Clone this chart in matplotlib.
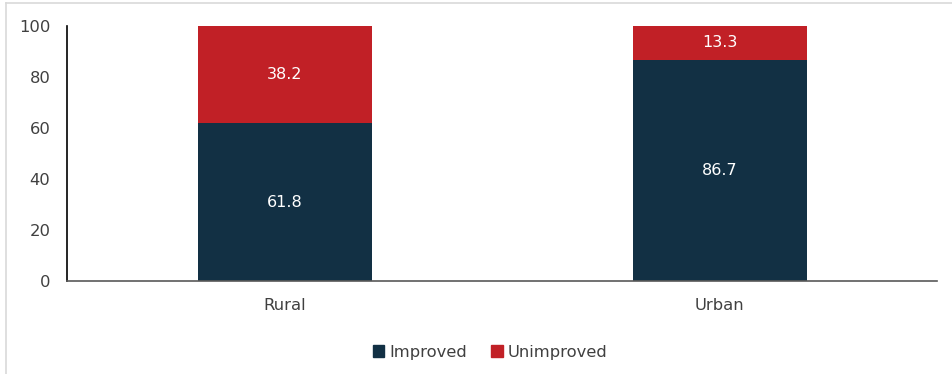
import matplotlib
matplotlib.use("Agg")
import matplotlib.pyplot as plt
from matplotlib.patches import Rectangle
from matplotlib.lines import Line2D

categories = ["Rural", "Urban"]
improved = [61.8, 86.7]
unimproved = [38.2, 13.3]
yticks = [0, 20, 40, 60, 80, 100]

navy = "#123044"
red = "#C12026"
txt = "#404040"

fig = plt.figure(figsize=(9.52, 3.74), dpi=100)
W, H = 952, 374
ax = fig.add_axes([67 / W, 1 - 281 / H, (937 - 67) / W, (281 - 26) / H])

x = list(range(len(categories)))
ax.bar(x, improved, width=0.4, color=navy, label="Improved", zorder=2)
ax.bar(x, unimproved, width=0.4, bottom=improved, color=red, label="Unimproved", zorder=2)

for i in x:
    ax.text(i, improved[i] / 2, f"{improved[i]:.1f}", ha="center", va="center",
            color="white", fontsize=11.5)
    ax.text(i, improved[i] + unimproved[i] / 2, f"{unimproved[i]:.1f}", ha="center",
            va="center", color="white", fontsize=11.5)

ax.set_xlim(-0.5, 1.5)
ax.set_ylim(0, 100)
ax.set_yticks(yticks)
ax.set_xticks(x)
ax.set_xticklabels(categories)
ax.tick_params(axis="both", length=0, labelsize=11.8, colors=txt)
ax.tick_params(axis="y", pad=12)
ax.tick_params(axis="x", pad=12)
for s in ["top", "right"]:
    ax.spines[s].set_visible(False)
ax.spines["left"].set_color("black")
ax.spines["left"].set_linewidth(1.2)
ax.spines["bottom"].set_color("#595959")
ax.spines["bottom"].set_linewidth(1.2)

handles = [Rectangle((0, 0), 1, 1, color=navy), Rectangle((0, 0), 1, 1, color=red)]
fig.legend(handles, ["Improved", "Unimproved"], loc="center", bbox_to_anchor=(490 / W, 1 - 352 / H),
           ncol=2, frameon=False, fontsize=11.8, handlelength=0.7, handleheight=0.7,
           handletextpad=0.3, columnspacing=1.5, labelcolor=txt)

fig.add_artist(Line2D([6 / W, 1], [1 - 3 / H, 1 - 3 / H], color="#D9D9D9", lw=1.2,
                      transform=fig.transFigure))
fig.add_artist(Line2D([6 / W, 6 / W], [0, 1 - 3 / H], color="#D9D9D9", lw=1.2,
                      transform=fig.transFigure))

fig.savefig("out.png", dpi=100)
